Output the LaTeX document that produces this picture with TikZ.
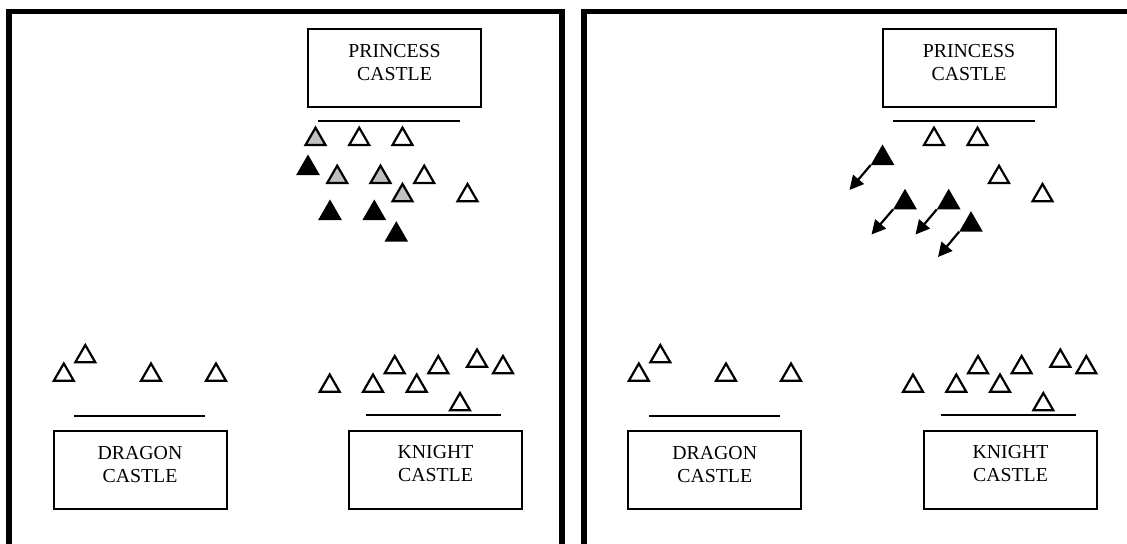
\documentclass[tikz,border=0pt]{standalone}
\usepackage{fontspec}
\setmainfont{Liberation Serif}
\usetikzlibrary{shapes.geometric,arrows.meta}
\definecolor{armygray}{RGB}{192,192,192}

\begin{document}
\begin{tikzpicture}[x=0.5pt, y=-0.5pt,
        frame/.style={line width=2.75pt},
        castle/.style={draw, line width=1pt, minimum width=86.5pt, minimum height=39pt, inner sep=0pt},
        castletext/.style={align=center, inner sep=0pt, font=\fontsize{9.9}{11.5}\selectfont},
        wall/.style={line width=1pt},
        soldier/.style={draw, line width=1.1pt, regular polygon, regular polygon sides=3, minimum size=11.5pt, inner sep=0pt, fill=white},
        greysoldier/.style={soldier, fill=armygray},
        blacksoldier/.style={soldier, fill=black},
        flee/.style={line width=1.1pt, -{Triangle[length=7pt, width=7pt]}}]
        \useasboundingbox (0,0) rectangle (1127,544);
        \clip (0,0) rectangle (1127,544);
        % Panels
        \draw[frame] (9,11.5) rectangle (562,600);
        \draw[frame] (584,11.5) rectangle (1160,600);

        % Left panel: castles
        \node[castle] (princessL) at (394.5,68.5) {};
        \node[castletext] (princessLtext) at ([yshift=2.75pt]princessL.center) {PRINCESS\\CASTLE};
        \node[castle] (dragonL) at (140,470.3) {};
        \node[castletext] (dragonLtext) at ([yshift=2.75pt]dragonL.center) {DRAGON\\CASTLE};
        \node[castle] (knightL) at (435.5,469.5) {};
        \node[castletext] (knightLtext) at ([yshift=3pt]knightL.center) {KNIGHT\\CASTLE};
        \draw[wall] (318.3,121) -- (460,121);
        \draw[wall] (74,416) -- (205,416);
        \draw[wall] (366,414.7) -- (500.7,414.7);
        % Left panel: armies
        \foreach \x/\y [count=\i] in {63.8/375, 85.3/356.5, 151/375, 216/375}
            \node[soldier] (dragonL\i) at (\x,\y) {};
        \foreach \x/\y [count=\i] in {329.7/386, 373/386, 394.7/367.5, 416.7/386, 438.3/367.5, 477/361, 503/367.5, 460/404.5}
            \node[soldier] (knightL\i) at (\x,\y) {};
        \foreach \x/\y [count=\i] in {359.2/139.2, 402.5/139.2, 424.2/177.2, 467.5/195.5}
            \node[soldier] (whiteL\i) at (\x,\y) {};
        \foreach \x/\y [count=\i] in {315.5/139.2, 337.2/177.2, 380.5/177.2, 402.5/195.5}
            \node[greysoldier] (greyL\i) at (\x,\y) {};
        \foreach \x/\y [count=\i] in {308/168.2, 330/213.2, 374.3/213.2, 396.3/234.9}
            \node[blacksoldier] (blackL\i) at (\x,\y) {};

        % Right panel: castles
        \node[castle] (princessR) at (969,68.5) {};
        \node[castletext] (princessRtext) at ([yshift=2.75pt]princessR.center) {PRINCESS\\CASTLE};
        \node[castle] (dragonR) at (714.7,470.3) {};
        \node[castletext] (dragonRtext) at ([yshift=2.75pt]dragonR.center) {DRAGON\\CASTLE};
        \node[castle] (knightR) at (1010.5,469.5) {};
        \node[castletext] (knightRtext) at ([yshift=3pt]knightR.center) {KNIGHT\\CASTLE};
        \draw[wall] (893.3,120.7) -- (1035,120.7);
        \draw[wall] (649.3,415.7) -- (780,415.7);
        \draw[wall] (940.7,414.7) -- (1075.7,414.7);
        % Right panel: armies
        \foreach \x/\y [count=\i] in {638.8/375, 660.3/356.5, 726/375, 791/375}
            \node[soldier] (dragonR\i) at (\x,\y) {};
        \foreach \x/\y [count=\i] in {913/386, 956.3/386, 978/367.5, 1000/386, 1021.6/367.5, 1060.3/361, 1086.3/367.5, 1043.3/404.5}
            \node[soldier] (knightR\i) at (\x,\y) {};
        \foreach \x/\y [count=\i] in {934/139.2, 977.5/139.2, 999/177.2, 1042.5/195.5}
            \node[soldier] (whiteR\i) at (\x,\y) {};
        \foreach \x/\y [count=\i] in {882.5/158.2, 905/202.5, 948.7/202.5, 971/224.9}
            \node[blacksoldier] (blackR\i) at (\x,\y) {};
        % Retreat
        \coordinate (fleeR1) at (849.5,190);
        \coordinate (fleeR2) at (871.5,234.5);
        \coordinate (fleeR3) at (915.5,234.5);
        \coordinate (fleeR4) at (938,257);
        \foreach \i in {1,...,4}
            \draw[flee] (blackR\i.corner 2) -- (fleeR\i);
    \end{tikzpicture}
\end{document}
